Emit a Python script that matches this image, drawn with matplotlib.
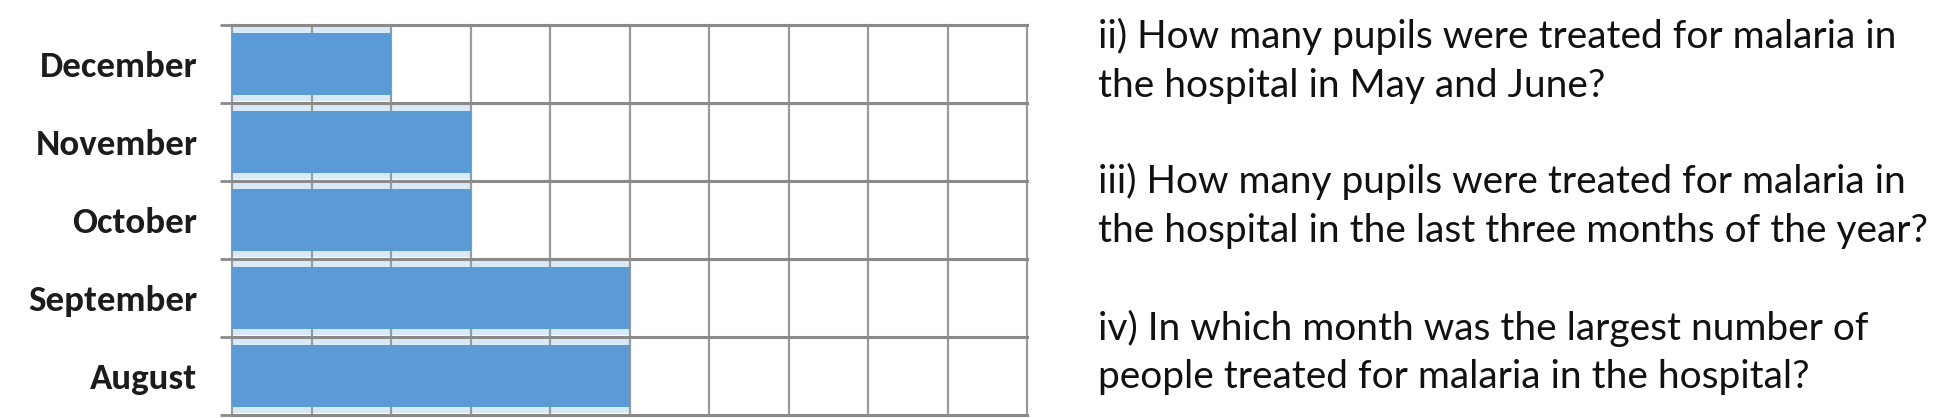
import matplotlib
matplotlib.use("Agg")
import matplotlib.pyplot as plt
import numpy as np

# ---- data ----
months = ["August", "September", "October", "November", "December"]
pupils = [5, 5, 3, 3, 2]
x_max = 10
questions = [
    "ii) How many pupils were treated for malaria in",
    "the hospital in May and June?",
    "",
    "iii) How many pupils were treated for malaria in",
    "the hospital in the last three months of the year?",
    "",
    "iv) In which month was the largest number of",
    "people treated for malaria in the hospital?",
]

W, H, DPI = 1940, 418, 100
fig = plt.figure(figsize=(W / DPI, H / DPI), dpi=DPI)
fig.patch.set_facecolor("white")
label_family = ["Carlito", "Roboto Condensed", "Archivo Narrow", "DejaVu Sans"]
text_family = ["Lato", "DejaVu Sans"]


def fit_size(s, family, weight, target, start=20):
    p = fig.text(0, 0.5, s, fontsize=start, family=family, fontweight=weight)
    fig.canvas.draw()
    w = p.get_window_extent().width
    p.remove()
    return start * target / w


label_fs = fit_size("December", label_family, "bold", 157)
text_fs = fit_size(questions[0], text_family, "normal", 1897 - 1098)

ax = fig.add_axes([232 / W, 3 / H, 795 / W, 390 / H])
ypos = np.arange(len(months))

ax.barh(ypos, pupils, height=0.94, color="#d8eaf8", zorder=1, linewidth=0)
ax.barh(ypos, pupils, height=0.80, color="#5b9bd5", zorder=2, linewidth=0)

ax.set_xlim(0, x_max)
ax.set_ylim(-0.5, len(months) - 0.5)
ax.set_axisbelow("line")

ax.set_xticks(np.arange(0, x_max + 1))
ax.set_yticks(ypos)
ax.set_yticks(np.arange(-0.5, len(months)), minor=True)
ax.set_yticklabels(months, family=label_family, fontweight="bold",
                   fontsize=label_fs, color="#1c1c1c")
ax.tick_params(axis="y", which="major", length=0, pad=25)
ax.tick_params(axis="y", which="minor", length=9, width=2.0, color="#8a8a8a",
               direction="out")
ax.tick_params(axis="x", which="both", length=0, labelbottom=False)

ax.grid(True, axis="x", which="major", color="#9a9a9a", linewidth=1.6)
ax.grid(True, axis="y", which="minor", color="#8a8a8a", linewidth=2.2)
ax.grid(False, axis="y", which="major")
for s in ax.spines.values():
    s.set_visible(False)
for t in ax.xaxis.get_major_ticks() + ax.yaxis.get_minor_ticks():
    t.gridline.set_clip_on(False)

# ---- questions text ----
x0 = 1098 / W
baselines = [48, 97, 145, 193, 242, 291, 340, 388]
for line, b in zip(questions, baselines):
    if line:
        fig.text(x0, 1 - b / H, line, fontsize=text_fs, family=text_family,
                 color="#111111", va="baseline", ha="left")

fig.savefig("out.png", dpi=DPI)
